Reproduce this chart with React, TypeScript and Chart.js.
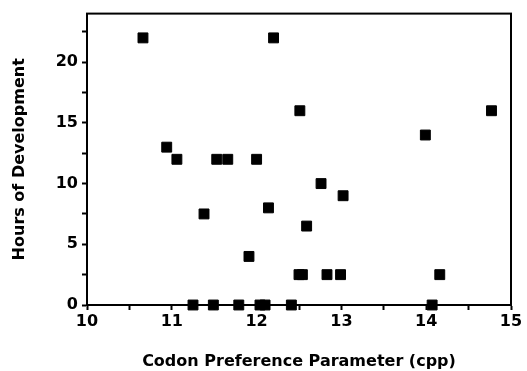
import React, { useEffect, useRef } from "react";
import { Chart, registerables } from "chart.js";

Chart.register(...registerables);

// Codon preference parameter (x) vs hours of development (y)
const cppValues = [
  10.66, 12.2, 12.51, 14.77, 13.99, 10.94, 11.06, 11.53, 11.66, 12.0,
  12.76, 13.02, 12.14, 11.38, 12.59, 11.91, 12.5, 12.54, 12.83, 12.99,
  14.16, 11.25, 11.49, 11.79, 12.04, 12.1, 12.41, 14.07,
];
const hoursValues = [
  22, 22, 16, 16, 14, 13, 12, 12, 12, 12,
  10, 9, 8, 7.5, 6.5, 4, 2.5, 2.5, 2.5, 2.5,
  2.5, 0, 0, 0, 0, 0, 0, 0,
];

const xTickValues = [10, 10.5, 11, 11.5, 12, 12.5, 13, 13.5, 14, 14.5, 15];
const xTickLabels = ["10", "", "11", "", "12", "", "13", "", "14", "", "15"];
const yTickValues = [0, 2.5, 5, 7.5, 10, 12.5, 15, 17.5, 20, 22.5];
const yTickLabels = ["0", "", "5", "", "10", "", "15", "", "20", ""];

const xTitle = "Codon Preference Parameter (cpp)";
const yTitle = "Hours of Development";

const framePlugin = {
  id: "frame",
  afterDatasetsDraw(chart: any) {
    const { ctx, chartArea } = chart;
    ctx.save();
    ctx.strokeStyle = "#000";
    ctx.lineWidth = 2;
    ctx.strokeRect(
      chartArea.left,
      chartArea.top,
      chartArea.right - chartArea.left,
      chartArea.bottom - chartArea.top
    );
    ctx.restore();
  },
};

export default function App() {
  const ref = useRef<HTMLCanvasElement | null>(null);

  useEffect(() => {
    if (!ref.current) return;
    const font = { family: "'DejaVu Sans', sans-serif", weight: "bold" as const, size: 16 };
    const points = cppValues.map((x, i) => ({ x, y: hoursValues[i] }));
    const chart = new Chart(ref.current, {
      type: "scatter",
      data: {
        datasets: [
          {
            data: points,
            pointStyle: "rect",
            pointRadius: 7,
            pointBorderWidth: 1,
            backgroundColor: "#000",
            borderColor: "#000",
            clip: false as any,
          },
        ],
      },
      plugins: [framePlugin],
      options: {
        animation: false,
        responsive: false,
        events: [],
        layout: { padding: { top: 13, right: 16, left: 0, bottom: 0 } },
        plugins: {
          legend: { display: false },
          tooltip: { enabled: false },
        },
        scales: {
          x: {
            type: "linear",
            min: 10,
            max: 15,
            afterFit: (s: any) => {
              s.height = 66;
            },
            afterBuildTicks: (s: any) => {
              s.ticks = xTickValues.map((v) => ({ value: v }));
            },
            ticks: {
              color: "#000",
              font,
              padding: 2,
              autoSkip: false,
              maxRotation: 0,
              callback: (v: any) => {
                const i = xTickValues.findIndex((t) => Math.abs(t - Number(v)) < 1e-6);
                return i >= 0 ? xTickLabels[i] : "";
              },
            },
            grid: {
              display: true,
              drawOnChartArea: false,
              drawTicks: true,
              tickLength: 5,
              tickColor: "#000",
              tickWidth: 2,
            },
            border: { display: true, color: "#000", width: 2 },
            title: {
              display: true,
              text: xTitle,
              color: "#000",
              font: { ...font, lineHeight: 1 },
              padding: { top: 0, bottom: 1 },
            },
          },
          y: {
            type: "linear",
            min: 0,
            max: 24,
            afterFit: (s: any) => {
              s.width = 87;
            },
            afterBuildTicks: (s: any) => {
              s.ticks = yTickValues.map((v) => ({ value: v }));
            },
            ticks: {
              color: "#000",
              font,
              padding: 4,
              autoSkip: false,
              callback: (v: any) => {
                const i = yTickValues.findIndex((t) => Math.abs(t - Number(v)) < 1e-6);
                return i >= 0 ? yTickLabels[i] : "";
              },
            },
            grid: {
              display: true,
              drawOnChartArea: false,
              drawTicks: true,
              tickLength: 5,
              tickColor: "#000",
              tickWidth: 2,
            },
            border: { display: true, color: "#000", width: 2 },
            title: {
              display: true,
              text: yTitle,
              color: "#000",
              font: { ...font, lineHeight: 1 },
              padding: { top: 12, bottom: 0 },
            },
          },
        },
      },
    });
    return () => chart.destroy();
  }, []);

  return (
    <div style={{ position: "absolute", left: 0, top: 0, width: 527, height: 371, background: "#fff" }}>
      <canvas ref={ref} width={527} height={371} style={{ display: "block" }} />
    </div>
  );
}
